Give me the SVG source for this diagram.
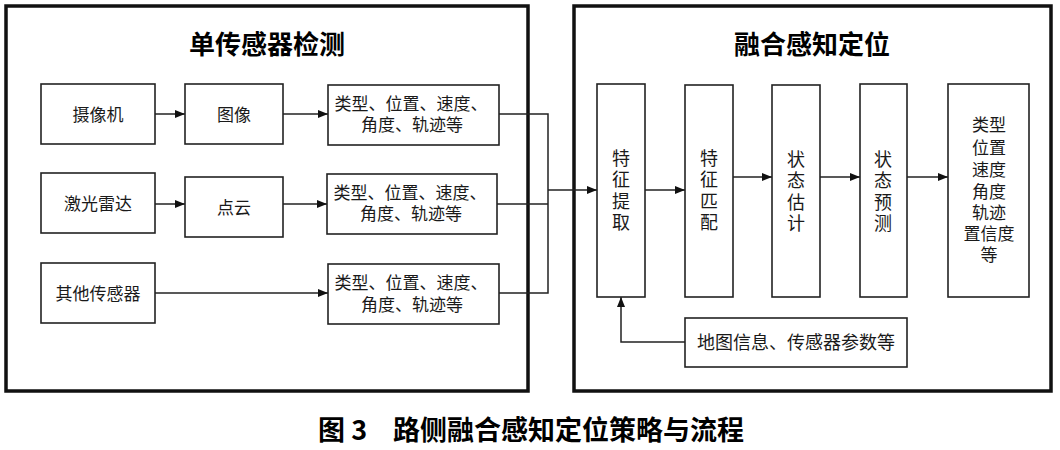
<svg xmlns="http://www.w3.org/2000/svg" width="1060" height="450" viewBox="0 0 1060 450">
<style>
text{font-family:"Noto Sans CJK SC","Noto Sans",sans-serif;fill:#1a1a1a}
.t{font-size:17px;text-anchor:middle}
.m{font-size:18px;text-anchor:middle}
.v{font-size:18px;text-anchor:middle;writing-mode:vertical-rl;letter-spacing:3.5px}
.h{font-size:26px;font-weight:bold;text-anchor:middle;fill:#000}
.cap{font-size:27px;font-weight:bold;fill:#000}
.outer{fill:none;stroke:#111;stroke-width:3.5}
.box{fill:#fff;stroke:#222;stroke-width:1.6}
.ln{fill:none;stroke:#222;stroke-width:1.5}
</style>
<defs>
<marker id="ah" markerWidth="10" markerHeight="8" refX="10" refY="4" orient="auto" markerUnits="userSpaceOnUse">
<path d="M0,0 L10,4 L0,8 z" fill="#111"/>
</marker>
</defs>
<rect width="1060" height="450" fill="#fff"/>

<g id="group-single">
<rect class="outer" x="6" y="6" width="522" height="385"/>
<text class="h" x="267" y="54">单传感器检测</text>
</g>
<g id="group-fusion">
<rect class="outer" x="574" y="6" width="477" height="385"/>
<text class="h" x="812" y="54">融合感知定位</text>
</g>

<g id="connectors">
<line class="ln" x1="155" y1="114" x2="185" y2="114" marker-end="url(#ah)"/>
<line class="ln" x1="283" y1="114" x2="328" y2="114" marker-end="url(#ah)"/>
<line class="ln" x1="155" y1="204" x2="185" y2="204" marker-end="url(#ah)"/>
<line class="ln" x1="283" y1="204" x2="327" y2="204" marker-end="url(#ah)"/>
<line class="ln" x1="155" y1="293" x2="328" y2="293" marker-end="url(#ah)"/>
<polyline class="ln" points="499,114 548,114 548,293 499,293"/>
<line class="ln" x1="497" y1="204" x2="548" y2="204"/>
<line class="ln" x1="548" y1="190" x2="597" y2="190" marker-end="url(#ah)"/>
<line class="ln" x1="645" y1="190" x2="685" y2="190" marker-end="url(#ah)"/>
<line class="ln" x1="733" y1="177" x2="772" y2="177" marker-end="url(#ah)"/>
<line class="ln" x1="820" y1="177" x2="860" y2="177" marker-end="url(#ah)"/>
<line class="ln" x1="907" y1="177" x2="948" y2="177" marker-end="url(#ah)"/>
<polyline class="ln" points="685,342 621,342 621,297" marker-end="url(#ah)"/>
</g>

<g id="camera">
<rect class="box" x="41" y="84" width="114" height="60"/>
<text class="t" x="98" y="121">摄像机</text>
</g>
<g id="image">
<rect class="box" x="185" y="84" width="98" height="60"/>
<text class="t" x="234" y="121">图像</text>
</g>
<g id="result1">
<rect class="box" x="328" y="85" width="171" height="60"/>
<text class="t" x="411" y="110">类型、位置、速度、<tspan x="412" dy="21">角度、轨迹等</tspan></text>
</g>

<g id="lidar">
<rect class="box" x="41" y="173" width="114" height="60"/>
<text class="t" x="98" y="210">激光雷达</text>
</g>
<g id="pointcloud">
<rect class="box" x="185" y="177" width="98" height="60"/>
<text class="t" x="234" y="214">点云</text>
</g>
<g id="result2">
<rect class="box" x="327" y="174" width="170" height="60"/>
<text class="t" x="410" y="199">类型、位置、速度、<tspan x="411" dy="21">角度、轨迹等</tspan></text>
</g>

<g id="other">
<rect class="box" x="41" y="263" width="114" height="60"/>
<text class="t" x="98" y="300">其他传感器</text>
</g>
<g id="result3">
<rect class="box" x="328" y="264" width="171" height="60"/>
<text class="t" x="411" y="289">类型、位置、速度、<tspan x="412" dy="22">角度、轨迹等</tspan></text>
</g>

<g id="feature-extract">
<rect class="box" x="597" y="84" width="48" height="213"/>
<text class="v" x="621" y="192">特征提取</text>
</g>
<g id="feature-match">
<rect class="box" x="685" y="85" width="48" height="212"/>
<text class="v" x="709" y="192">特征匹配</text>
</g>
<g id="state-estimate">
<rect class="box" x="772" y="85" width="48" height="212"/>
<text class="v" x="796" y="193">状态估计</text>
</g>
<g id="state-predict">
<rect class="box" x="860" y="84" width="47" height="213"/>
<text class="v" x="883" y="193">状态预测</text>
</g>
<g id="fusion-result">
<rect class="box" x="948" y="84" width="81" height="213"/>
<text class="t" x="989" y="131">类型<tspan x="989" dy="23">位置</tspan><tspan x="989" dy="22">速度</tspan><tspan x="989" dy="22">角度</tspan><tspan x="989" dy="21">轨迹</tspan><tspan x="989" dy="21">置信度</tspan><tspan x="989" dy="21">等</tspan></text>
</g>
<g id="map-info">
<rect class="box" x="685" y="318" width="222" height="49"/>
<text class="m" x="796" y="349">地图信息、传感器参数等</text>
</g>

<g id="caption">
<text class="cap" x="318" y="440">图 3</text>
<text class="cap" x="393" y="440">路侧融合感知定位策略与流程</text>
</g>
</svg>
